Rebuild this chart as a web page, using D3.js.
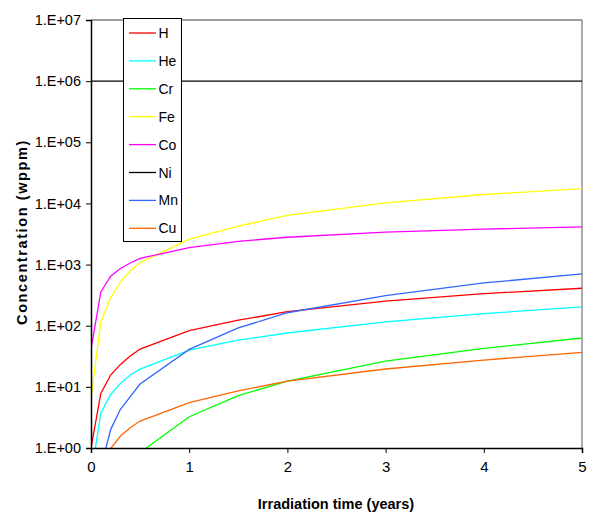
<!DOCTYPE html>
<html><head><meta charset="utf-8">
<script src="https://cdn.jsdelivr.net/npm/d3@7"></script>
<style>body{margin:0;background:#fff}svg{display:block}text{font-family:"Liberation Sans",Arial,sans-serif}</style>
</head><body><svg id="c" width="593" height="515"></svg>
<script>
const years = [0, 0.1, 0.2, 0.3, 0.4, 0.5, 1, 1.5, 2, 3, 4, 5];
const H  = [1, 7.8, 15.6, 23.3, 32, 41.5, 83, 123, 170, 253, 335, 410];
const He = [0.35, 3.7, 7.5, 11.4, 15.6, 19.5, 40, 58, 76, 116, 158, 203];
const Cr = [0.01, 0.02, 0.05, 0.1, 0.3, 0.84, 3.25, 7.2, 12.4, 26.4, 42.6, 63];
const Fe = [6.5, 115, 290, 520, 790, 1070, 2600, 4250, 6400, 10200, 14000, 17500];
const Co = [41, 357, 645, 865, 1060, 1260, 1900, 2400, 2800, 3400, 3800, 4150];
const Ni = [1e6, 1e6, 1e6, 1e6, 1e6, 1e6, 1e6, 1e6, 1e6, 1e6, 1e6, 1e6];
const Mn = [0.01, 0.47, 2.0, 4.3, 6.9, 11.1, 41, 92, 163, 310, 500, 705];
const Cu = [0.01, 0.1, 0.98, 1.57, 2.15, 2.76, 5.5, 8.6, 12.4, 19.6, 27.4, 36.7];
const seriesNames = ["H", "He", "Cr", "Fe", "Co", "Ni", "Mn", "Cu"];
const seriesValues = [H, He, Cr, Fe, Co, Ni, Mn, Cu];
const seriesColors = ["#ff0000", "#00ffff", "#00ff00", "#ffff00", "#ff00ff", "#000000", "#3366ff", "#ff6600"];
const yTicks = [1, 10, 100, 1e3, 1e4, 1e5, 1e6, 1e7];
const yTickLabels = ["1.E+00", "1.E+01", "1.E+02", "1.E+03", "1.E+04", "1.E+05", "1.E+06", "1.E+07"];
const xTicks = [0, 1, 2, 3, 4, 5];

const svg = d3.select("#c");
const L = 91, R = 582, T = 20, B = 448;
const x = d3.scaleLinear().domain([0, 5]).range([L, R]);
const y = d3.scaleLog().domain([1, 1e7]).range([B, T]);

svg.append("defs").append("clipPath").attr("id", "clip")
  .append("rect").attr("x", L).attr("y", T).attr("width", R - L).attr("height", B - T);

// frame (top/right grey)
svg.append("line").attr("x1", L).attr("x2", R).attr("y1", T).attr("y2", T).attr("stroke", "#808080").attr("stroke-width", 1.3);
svg.append("line").attr("x1", R).attr("x2", R).attr("y1", T).attr("y2", B).attr("stroke", "#808080").attr("stroke-width", 1.3);

const line = d3.line().x((d, i) => x(years[i])).y(d => y(d));
const g = svg.append("g").attr("clip-path", "url(#clip)");
seriesValues.forEach((vals, k) => {
  g.append("path").attr("d", line(vals)).attr("fill", "none")
    .attr("stroke", seriesColors[k]).attr("stroke-width", k === 5 ? 1.4 : 1.3);
});

// axes
const yAxis = svg.append("g").attr("transform", `translate(${L},0)`)
  .call(d3.axisLeft(y).tickValues(yTicks).tickFormat((d, i) => yTickLabels[i]).tickSize(5).tickPadding(5));
yAxis.select(".domain").attr("stroke", "#000").attr("stroke-width", 1.5);
yAxis.selectAll(".tick line").attr("stroke", "#000");
yAxis.selectAll("text").attr("font-size", "14.5px").attr("fill", "#000").attr("font-family", "Liberation Sans, Arial");

const xAxis = svg.append("g").attr("transform", `translate(0,${B})`)
  .call(d3.axisBottom(x).tickValues(xTicks).tickFormat(d3.format("d")).tickSize(5).tickPadding(8));
xAxis.select(".domain").attr("stroke", "#000").attr("stroke-width", 1.5);
xAxis.selectAll(".tick line").attr("stroke", "#000");
xAxis.selectAll("text").attr("font-size", "15px").attr("fill", "#000").attr("font-family", "Liberation Sans, Arial");

// titles
svg.append("text").attr("x", 336).attr("y", 509).attr("text-anchor", "middle")
  .attr("font-size", "14.5px").attr("font-weight", "bold").text("Irradiation time (years)");
svg.append("text").attr("transform", "translate(27,232) rotate(-90)").attr("text-anchor", "middle")
  .attr("font-size", "14.5px").attr("font-weight", "bold").attr("letter-spacing", "1.6px").text("Concentration (wppm)");

// legend
const lg = svg.append("g");
lg.append("rect").attr("x", 123.5).attr("y", 18.5).attr("width", 58).attr("height", 223)
  .attr("fill", "#fff").attr("stroke", "#000").attr("stroke-width", 1);
seriesNames.forEach((n, i) => {
  const yy = 33 + i * 27.9;
  lg.append("line").attr("x1", 129).attr("x2", 156).attr("y1", yy).attr("y2", yy)
    .attr("stroke", seriesColors[i]).attr("stroke-width", 1.3);
  lg.append("text").attr("x", 158.5).attr("y", yy + 5).attr("font-size", "14px").text(n);
});
</script></body></html>
